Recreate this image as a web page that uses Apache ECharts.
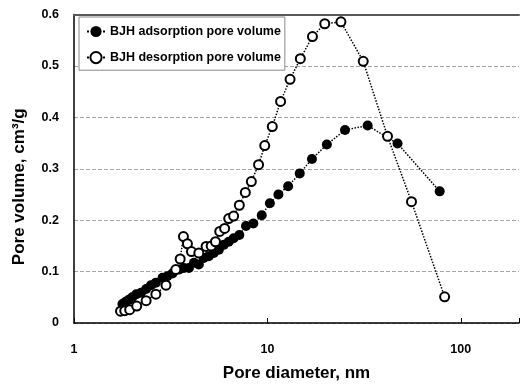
<!DOCTYPE html>
<html>
<head>
<meta charset="utf-8">
<script src="https://cdn.jsdelivr.net/npm/echarts@6/dist/echarts.min.js"></script>
<style>
  html, body {margin: 0; padding: 0; background: #fff;}
  #chart {width: 522px; height: 387px;}
</style>
</head>
<body>
<div id="chart"></div>
<script>
// pore diameter (nm) and pore volume (cm3/g)
const adsD = [1.78, 1.85, 1.92, 2.0, 2.1, 2.22, 2.36, 2.5, 2.65, 2.87, 3.04, 3.23, 3.5, 3.7, 3.93, 4.17, 4.42, 4.69, 4.98, 5.28, 5.61, 5.95, 6.31, 6.69, 7.16, 7.75, 8.46, 9.35, 10.3, 11.4, 12.8, 14.7, 17.0, 20.3, 25.2, 33.0, 47.1, 77.8];
const adsV = [0.037, 0.0415, 0.045, 0.05, 0.056, 0.059, 0.066, 0.0735, 0.0785, 0.088, 0.091, 0.0965, 0.104, 0.107, 0.107, 0.117, 0.114, 0.1265, 0.13, 0.136, 0.1425, 0.152, 0.158, 0.165, 0.171, 0.1885, 0.1935, 0.2095, 0.233, 0.25, 0.266, 0.291, 0.319, 0.347, 0.3755, 0.384, 0.349, 0.256];

const desD = [1.74, 1.83, 1.94, 2.11, 2.36, 2.65, 2.99, 3.36, 3.54, 3.68, 3.86, 4.05, 4.42, 4.82, 5.12, 5.39, 5.67, 6.01, 6.31, 6.69, 7.16, 7.69, 8.26, 9.0, 9.69, 10.6, 11.7, 13.1, 14.8, 17.1, 19.8, 24.0, 31.3, 41.8, 55.6, 82.5];
const desV = [0.023, 0.024, 0.026, 0.033, 0.0435, 0.056, 0.0735, 0.104, 0.1245, 0.168, 0.154, 0.139, 0.136, 0.149, 0.15, 0.158, 0.178, 0.184, 0.203, 0.208, 0.229, 0.254, 0.275, 0.308, 0.345, 0.382, 0.431, 0.474, 0.514, 0.557, 0.582, 0.5857, 0.509, 0.363, 0.236, 0.051];

const xTicks = [1, 10, 100];
const yMin = 0, yMax = 0.6, yStep = 0.1;

const FONT = 'Liberation Sans';

const chart = echarts.init(document.getElementById('chart'));
chart.setOption({
  animation: false,
  backgroundColor: '#fff',
  textStyle: {fontFamily: FONT},
  grid: {left: 74, right: -1, top: 14.5, bottom: 59.3},
  legend: {
    left: 79,
    top: 17,
    orient: 'vertical',
    backgroundColor: '#fff',
    borderColor: '#888',
    borderWidth: 1,
    borderRadius: 0,
    padding: [8, 4, 6, 7],
    itemWidth: 18,
    itemHeight: 14,
    itemGap: 13,
    textStyle: {fontFamily: FONT, fontWeight: 'bold', fontSize: 12.5, color: '#000'},
    data: ['BJH adsorption pore volume', 'BJH desorption pore volume'],
  },
  xAxis: [
    {
      type: 'log',
      logBase: 10,
      min: 1,
      max: 200,
      name: 'Pore diameter, nm',
      nameLocation: 'middle',
      nameGap: 42,
      nameTextStyle: {fontFamily: FONT, fontWeight: 'bold', fontSize: 17, color: '#000'},
      axisLine: {lineStyle: {color: '#000', width: 1.5}},
      axisTick: {inside: true, length: 5, lineStyle: {color: '#000'}},
      minorTick: {show: false},
      splitLine: {show: false},
      axisLabel: {
        margin: 20,
        fontFamily: FONT, fontWeight: 'bold', fontSize: 12.5, color: '#000',
        formatter: v => (xTicks.indexOf(Math.round(v)) >= 0 ? String(Math.round(v)) : ''),
      },
    },
    {
      type: 'log',
      logBase: 10,
      min: 1,
      max: 200,
      position: 'top',
      axisLine: {lineStyle: {color: '#595959', width: 2}},
      axisTick: {show: false},
      axisLabel: {show: false},
      splitLine: {show: false},
    },
  ],
  yAxis: {
    type: 'value',
    min: yMin,
    max: yMax,
    interval: yStep,
    name: 'Pore volume, cm³/g',
    nameLocation: 'middle',
    nameGap: 46,
    nameTextStyle: {fontFamily: FONT, fontWeight: 'bold', fontSize: 17, color: '#000', padding: [0, 36, 0, 0]},
    axisLine: {show: true, lineStyle: {color: '#000', width: 1.5}},
    axisTick: {show: false},
    splitLine: {lineStyle: {color: '#a6a6a6', type: [4, 2], width: 1}},
    axisLabel: {
      margin: 15,
      fontFamily: FONT, fontWeight: 'bold', fontSize: 12.5, color: '#000',
      formatter: v => (v === 0 ? '0' : v.toFixed(1)),
    },
  },
  series: [
    {
      name: 'BJH adsorption pore volume',
      type: 'line',
      data: adsD.map((d, i) => [d, adsV[i]]),
      symbol: 'circle',
      symbolSize: 10,
      itemStyle: {color: '#000'},
      lineStyle: {color: '#000', width: 1.5, type: 'dotted'},
    },
    {
      name: 'BJH desorption pore volume',
      type: 'line',
      data: desD.map((d, i) => [d, desV[i]]),
      symbol: 'emptyCircle',
      symbolSize: 9,
      itemStyle: {color: '#000', borderWidth: 1.3},
      lineStyle: {color: '#000', width: 1.5, type: 'dotted'},
    },
  ],
});
</script>
</body>
</html>
